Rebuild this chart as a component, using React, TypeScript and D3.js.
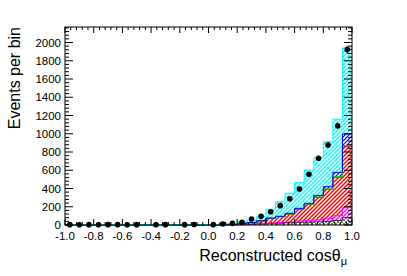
import React, { useEffect, useRef } from 'react';
import * as d3 from 'd3';

// 30 bins in reconstructed cos(theta_mu), -1 .. 1
const binEdges = d3.range(31).map(i => -1 + (i * 2) / 30);

// data points (events per bin)
const dataCounts = [4, 3, 4, 3, 4, 4, 3, 4, 0, 3, 4, 0, 4, 5, 0, 4, 11, 18, 30, 66, 95, 146, 212, 288, 395, 555, 731, 877, 1088, 1923];

// stacked MC components, bottom to top
const mcGray = [1, 1, 1, 1, 1, 1, 1, 1, 1, 1, 1, 1, 1, 1, 1, 1, 1, 2, 4, 6, 10, 15, 20, 25, 30, 32, 35, 40, 50, 80];
const mcMagenta = [0, 0, 0, 0, 0, 0, 0, 0, 0, 0, 0, 0, 0, 0, 0, 0, 1, 1, 1, 2, 3, 5, 8, 10, 14, 15, 20, 33, 52, 114];
const mcRed = [2, 2, 2, 2, 2, 2, 2, 2, 2, 2, 2, 2, 2, 2, 2, 2, 3, 5, 9, 17, 31, 53, 63, 85, 128, 180, 248, 318, 420, 664];
const mcGreen = [0, 0, 0, 0, 0, 0, 0, 0, 0, 0, 0, 0, 0, 0, 0, 0, 0, 0, 0, 1, 1, 1, 2, 2, 3, 3, 4, 5, 7, 12];
const mcBlue = [0, 0, 0, 0, 0, 0, 0, 0, 0, 0, 0, 0, 0, 0, 0, 0, 0, 0, 1, 1, 1, 2, 3, 6, 8, 7, 18, 24, 48, 127];
const mcCyan = [1, 1, 1, 1, 1, 1, 1, 1, 1, 1, 1, 1, 1, 1, 1, 1, 5, 7, 21, 28, 45, 96, 160, 219, 285, 366, 413, 493, 583, 943];

const yTicks = d3.range(0, 2001, 200);
const yMinor = d3.range(0, 2170, 40);
const xTicks = d3.range(0, 11).map(i => -1 + i * 0.2);
const xMinor = d3.range(0, 51).map(i => -1 + i * 0.04);

export default function App() {
  const ref = useRef<SVGSVGElement>(null);

  useEffect(() => {
    const svg = d3.select(ref.current);
    svg.selectAll('*').remove();

    const left = 65, right = 352, top = 27, bottom = 225;
    const x = d3.scaleLinear().domain([-1, 1]).range([left, right]);
    const y = d3.scaleLinear().domain([0, 2170]).range([bottom, top]);
    const font = 'Liberation Sans, Arial, Helvetica, sans-serif';

    const defs = svg.append('defs');
    const hatch = (id: string, color: string, cross: boolean, sw: number) => {
      const p = defs.append('pattern').attr('id', id)
        .attr('patternUnits', 'userSpaceOnUse').attr('width', 4).attr('height', 4);
      p.append('rect').attr('width', 4).attr('height', 4).attr('fill', '#fff');
      p.append('path').attr('d', 'M-1,1 L1,-1 M0,4 L4,0 M3,5 L5,3')
        .attr('stroke', color).attr('stroke-width', sw);
      if (cross) {
        p.append('path').attr('d', 'M-1,3 L1,5 M0,0 L4,4 M3,-1 L5,1')
          .attr('stroke', color).attr('stroke-width', sw);
      }
    };
    hatch('hGray', '#666', true, 0.9);
    hatch('hMag', '#ff00ff', false, 1.3);
    hatch('hRed', '#ff0000', false, 1.4);
    hatch('hGreen', '#00cc00', false, 1.2);
    hatch('hBlue', '#0000ff', false, 1.2);
    hatch('hCyan', '#00ffff', false, 1.25);

    const layers = [
      { vals: mcGray, fill: 'url(#hGray)', line: '#333' },
      { vals: mcMagenta, fill: 'url(#hMag)', line: '#ff00ff' },
      { vals: mcRed, fill: 'url(#hRed)', line: '#ff0000' },
      { vals: mcGreen, fill: 'url(#hGreen)', line: '#00cc00' },
      { vals: mcBlue, fill: 'url(#hBlue)', line: '#0000ff' },
      { vals: mcCyan, fill: 'url(#hCyan)', line: '#00ffff' },
    ];

    let base = new Array(30).fill(0);
    const built = layers.map(l => {
      const lo = base.slice();
      const hi = base.map((b, i) => b + l.vals[i]);
      base = hi;
      return { ...l, lo, hi };
    });

    const pts = (lo: number[], hi: number[]) =>
      binEdges.map((e, i) => ({ e, lo: lo[Math.min(i, 29)], hi: hi[Math.min(i, 29)] }));

    const area = d3.area<any>().curve(d3.curveStepAfter)
      .x(d => x(d.e)).y0(d => y(d.lo)).y1(d => y(d.hi));
    const line = d3.line<any>().curve(d3.curveStepAfter)
      .x(d => x(d.e)).y(d => y(d.hi));

    const g = svg.append('g');
    built.forEach(l => {
      g.append('path').attr('d', area(pts(l.lo, l.hi))).attr('fill', l.fill).attr('stroke', 'none');
    });
    built.forEach(l => {
      g.append('path').attr('d', line(pts(l.lo, l.hi))).attr('fill', 'none')
        .attr('stroke', l.line).attr('stroke-width', 1);
    });

    // data points
    const centers = d3.range(30).map(i => (binEdges[i] + binEdges[i + 1]) / 2);
    const dg = svg.append('g');
    dataCounts.forEach((n, i) => {
      if (n <= 0) return;
      const err = Math.sqrt(n);
      dg.append('line').attr('x1', x(centers[i])).attr('x2', x(centers[i]))
        .attr('y1', y(n - err)).attr('y2', y(n + err)).attr('stroke', '#000').attr('stroke-width', 1);
      dg.append('circle').attr('cx', x(centers[i])).attr('cy', y(n)).attr('r', 2.8).attr('fill', '#000');
    });

    // frame and ticks
    const ax = svg.append('g').attr('stroke', '#000').attr('stroke-width', 1);
    xMinor.forEach(v => {
      const isMaj = xTicks.some(t => Math.abs(t - v) < 1e-6);
      const len = isMaj ? 6 : 3;
      ax.append('line').attr('x1', x(v)).attr('x2', x(v)).attr('y1', bottom).attr('y2', bottom - len);
      ax.append('line').attr('x1', x(v)).attr('x2', x(v)).attr('y1', top).attr('y2', top + len);
    });
    yMinor.forEach(v => {
      const isMaj = v % 200 === 0;
      const len = isMaj ? 8 : 4;
      ax.append('line').attr('x1', left).attr('x2', left + len).attr('y1', y(v)).attr('y2', y(v));
      ax.append('line').attr('x1', right).attr('x2', right - len).attr('y1', y(v)).attr('y2', y(v));
    });
    ax.append('rect').attr('x', left).attr('y', top).attr('width', right - left).attr('height', bottom - top)
      .attr('fill', 'none');

    // labels
    const lab = svg.append('g').attr('font-family', font).attr('font-size', 11.5).attr('fill', '#000');
    yTicks.forEach(v => {
      lab.append('text').attr('x', left - 4).attr('y', y(v)).attr('dy', '0.36em')
        .attr('text-anchor', 'end').text(String(v));
    });
    xTicks.forEach(v => {
      const s = Math.abs(v) < 1e-9 ? '0.0' : v.toFixed(1);
      lab.append('text').attr('x', x(v)).attr('y', 240).attr('text-anchor', 'middle').text(s);
    });

    const xt = svg.append('text').attr('font-family', font).attr('font-size', 16)
      .attr('x', right - 5).attr('y', 261).attr('text-anchor', 'end');
    xt.append('tspan').text('Reconstructed cos\u03b8');
    xt.append('tspan').attr('font-size', 11).attr('dy', 4).text('\u03bc');

    svg.append('text').attr('font-family', font).attr('font-size', 16)
      .attr('transform', `translate(20, ${top}) rotate(-90)`)
      .attr('text-anchor', 'end').text('Events per bin');
  }, []);

  return (
    <svg ref={ref} width={407} height={276}
      style={{ position: 'absolute', left: 0, top: 0, background: '#fff' }} />
  );
}
